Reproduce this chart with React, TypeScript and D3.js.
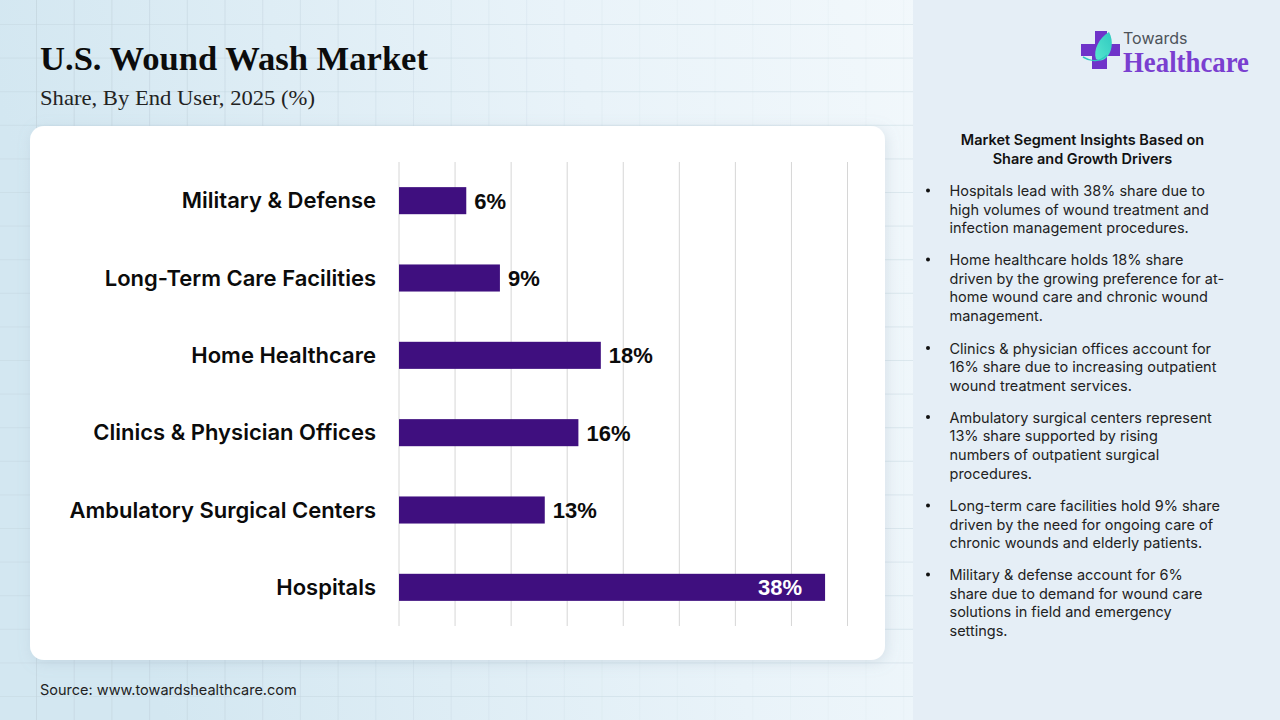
import React from "react";
import * as d3 from "d3";

const categories = ["Military & Defense", "Long-Term Care Facilities", "Home Healthcare", "Clinics & Physician Offices", "Ambulatory Surgical Centers", "Hospitals"];
const shares = [6, 9, 18, 16, 13, 38];
const ticks = [0, 5, 10, 15, 20, 25, 30, 35, 40];
const insights = [
  ["Hospitals lead with 38% share due to", "high volumes of wound treatment and", "infection management procedures."],
  ["Home healthcare holds 18% share", "driven by the growing preference for at-", "home wound care and chronic wound", "management."],
  ["Clinics & physician offices account for", "16% share due to increasing outpatient", "wound treatment services."],
  ["Ambulatory surgical centers represent", "13% share supported by rising", "numbers of outpatient surgical", "procedures."],
  ["Long-term care facilities hold 9% share", "driven by the need for ongoing care of", "chronic wounds and elderly patients."],
  ["Military & defense account for 6%", "share due to demand for wound care", "solutions in field and emergency", "settings."],
];
const insightTops = [190.5, 259.5, 348, 417, 505.5, 574.5];

const sans = "Inter, 'Noto Sans', sans-serif";
const serif = "'Liberation Serif', serif";

export default function App() {
  const x = d3.scaleLinear().domain([0, 40]).range([399, 847.5]);
  const y = d3.scaleBand().domain(categories).range([162, 626]).paddingInner(0.65).paddingOuter(0.325);
  const gridX = d3.range(36, 913, 37.7);
  const gridY = d3.range(24, 720, 33.6);
  return (
    <svg width={1280} height={720} viewBox="0 0 1280 720" style={{ position: "fixed", left: 0, top: 0 }}>
      <defs>
        <linearGradient id="bg" x1="0" x2="1" y1="0.15" y2="0">
          <stop offset="0" stopColor="#d3e7f1" />
          <stop offset="0.45" stopColor="#e9f3f9" />
          <stop offset="1" stopColor="#fbfdfe" />
        </linearGradient>
        <linearGradient id="gridFade" x1="0" x2="1" y1="0" y2="0">
          <stop offset="0" stopColor="#bfd0da" stopOpacity="0.75" />
          <stop offset="0.5" stopColor="#c6d5de" stopOpacity="0.5" />
          <stop offset="1" stopColor="#d5e0e8" stopOpacity="0.2" />
        </linearGradient>
        <filter id="shadow" x="-5%" y="-5%" width="110%" height="110%">
          <feDropShadow dx="2" dy="3" stdDeviation="7" floodColor="#8fa5b5" floodOpacity="0.25" />
        </filter>
        <linearGradient id="leaf" x1="0" x2="1" y1="1" y2="0">
          <stop offset="0" stopColor="#57e6cf" />
          <stop offset="1" stopColor="#2fc9c0" />
        </linearGradient>
      </defs>
      <rect width={1280} height={720} fill="url(#bg)" />
      <g fill="url(#gridFade)">
        {gridX.map((g) => <rect key={"v" + g} x={g} y={0} width={1} height={720} fill="#c3d4de" opacity={Math.max(0.08, 0.75 - g / 1000)} />)}
        {gridY.map((g) => <rect key={"h" + g} x={0} y={g} width={913} height={1} fill="#c3d4de" opacity={0.45} />)}
      </g>

      <rect x={913} y={0} width={367} height={720} fill="#e5eef6" />

      <text x={40} y={70} fontFamily={serif} fontWeight={700} fontSize={33} fill="#0c0c0c" textLength={388} lengthAdjust="spacingAndGlyphs">U.S. Wound Wash Market</text>
      <text x={40} y={105} fontFamily={serif} fontSize={21} fill="#222" textLength={275} lengthAdjust="spacingAndGlyphs">Share, By End User, 2025 (%)</text>

      <rect x={30} y={126} width={855} height={534} rx={14} fill="#fff" filter="url(#shadow)" />

      {ticks.map((t) => (
        <line key={t} x1={x(t)} x2={x(t)} y1={162} y2={626} stroke="#d6d6d6" strokeWidth={1} />
      ))}
      {categories.map((c, i) => {
        const v = shares[i];
        const yy = y(c)!;
        const cy = yy + y.bandwidth() / 2;
        const inside = v === 38;
        return (
          <g key={c}>
            <text x={376} y={cy + 7.5} textAnchor="end" fontFamily={sans} fontWeight={600} fontSize={22} fill="#0b0b0b">{c}</text>
            <rect x={x(0)} y={yy} width={x(v) - x(0)} height={y.bandwidth()} fill="#3f0f7f" />
            <text x={inside ? x(v) - 23 : x(v) + 8} y={cy + 8} textAnchor={inside ? "end" : "start"} fontFamily="'Liberation Sans', Arial, sans-serif" fontWeight={700} fontSize={22} fill={inside ? "#fff" : "#0b0b0b"}>{v}%</text>
          </g>
        );
      })}

      <text x={40} y={695} fontFamily={sans} fontSize={14.5} fill="#222">Source: www.towardshealthcare.com</text>

      <g fontFamily={sans} fill="#111">
        <text x={1082.5} y={145} textAnchor="middle" fontWeight={600} fontSize={14.5}>Market Segment Insights Based on</text>
        <text x={1082.5} y={164} textAnchor="middle" fontWeight={600} fontSize={14.5}>Share and Growth Drivers</text>
        {insights.map((lines, i) => (
          <g key={i}>
            <circle cx={928} cy={insightTops[i]} r={2} fill="#111" />
            {lines.map((l, j) => (
              <text key={j} x={949.5} y={insightTops[i] + 5.5 + j * 18.7} fontSize={14.5} fill="#222">{l}</text>
            ))}
          </g>
        ))}
      </g>

      <g>
        <path d="M1095 31h12v13h13v12h-13v13h-15v-13h-11v-12h14z" fill="#6f33c9" />
        <path d="M1109 32c5 9 3 21-3 26-3 3-7 3-10 1-3-9 3-21 13-27z" fill="url(#leaf)" />
        <path d="M1083 57c8 5 17 5 24-2" fill="none" stroke="#2fc9c0" strokeWidth={1.5} />
        <text x={1123} y={44} fontFamily="Inter, sans-serif" fontSize={16} fill="#4d5359">Towards</text>
        <text x={1123} y={72} fontFamily={serif} fontWeight={700} fontSize={29} fill="#7a3fd0" textLength={126} lengthAdjust="spacingAndGlyphs">Healthcare</text>
      </g>
    </svg>
  );
}
